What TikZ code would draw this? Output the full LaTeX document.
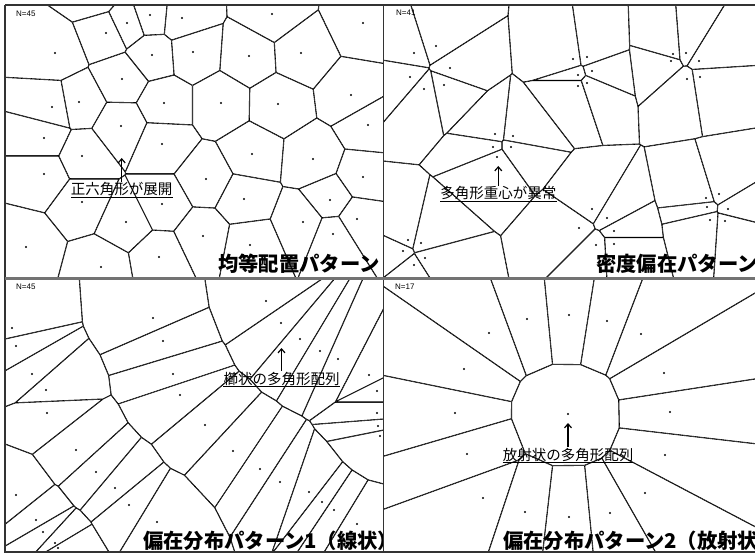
\documentclass[tikz,border=0pt]{standalone}
\usepackage{fontspec}
\setmainfont{Liberation Sans}
\newfontfamily\jp{Noto Sans CJK JP}
\usetikzlibrary{arrows.meta}

\newcommand\vqhalf[4]{%
  \pgfmathsetmacro\vqdx{#3-(#1)}%
  \pgfmathsetmacro\vqdy{#4-(#2)}%
  \pgfmathsetmacro\vqd{veclen(\vqdx,\vqdy)}%
}
\newcommand\vqpoly[4]{%
  \pgfmathsetmacro\vqux{\vqdx/\vqd}%
  \pgfmathsetmacro\vquy{\vqdy/\vqd}%
  \pgfmathsetmacro\vqmx{(#1+#3)/2}%
  \pgfmathsetmacro\vqmy{(#2+#4)/2}%
  \pgfmathsetmacro\vqAx{\vqmx-800*\vquy}%
  \pgfmathsetmacro\vqAy{\vqmy+800*\vqux}%
  \pgfmathsetmacro\vqDx{\vqmx+800*\vquy}%
  \pgfmathsetmacro\vqDy{\vqmy-800*\vqux}%
  \pgfmathsetmacro\vqBx{\vqAx-800*\vqux}%
  \pgfmathsetmacro\vqBy{\vqAy-800*\vquy}%
  \pgfmathsetmacro\vqCx{\vqDx-800*\vqux}%
  \pgfmathsetmacro\vqCy{\vqDy-800*\vquy}%
}
\newcommand\vqdiagram[2]{%
  \foreach \xa/\ya [count=\i] in #1 {%
    \begin{scope}
    \gdef\vqlines{}%
    \foreach \xb/\yb [count=\j] in #1 {%
      \ifnum\i=\j\relax\else
        \vqhalf{\xa}{\ya}{\xb}{\yb}%
        \ifdim\vqd pt<#2pt\relax
          \vqpoly{\xa}{\ya}{\xb}{\yb}%
          \clip (\vqAx,\vqAy) -- (\vqBx,\vqBy) -- (\vqCx,\vqCy) -- (\vqDx,\vqDy) -- cycle;
          \xdef\vqlines{\vqlines (\vqAx,\vqAy) -- (\vqDx,\vqDy)}%
        \fi
      \fi
    }%
    \draw[vedge] \vqlines;
    \end{scope}
  }%
}

\def\seedsA{106/33, 127/23, 150/15, 182/18, 272/14, 363/23,
55/53, 152/55, 193/52, 249/56, 301/53,
122/79, 351/95,
52/107, 79/102, 164/103, 221/103, 278/104,
121/126, 368/125,
44/138, 162/144, 252/154, 313/159, 82/156,
44/174, 206/179, 363/177,
82/202, 162/204, 244/199, 330/200,
126/222, 303/222, 357/219,
203/236, 333/234,
26/247, 101/267, 159/257, 250/245,
95/-5}

\def\seedsB{414/53, 436/46, 450/68, 410/77, 424/89, 444/85,
573/59, 587/57, 592/71, 578/75, 587/83, 578/86,
673/54, 686/53, 671/61, 699/61, 687/79, 700/77,
495/134, 513/136, 493/147, 511/147, 497/157,
592/209, 607/218, 579/228, 614/231, 596/245, 614/244,
706/198, 719/194, 707/207, 728/209, 710/220, 725/221,
408/240, 421/243, 403/251, 425/258, 414/265}

\def\seedsC{12/328, 16/346, 32/374, 46/390, 47/413,
153/318, 163/341, 173/374, 180/395, 205/425,
266/301, 281/323, 300/339, 320/351, 338/359, 369/375, 377/391, 377/413, 378/426, 380/436,
76/450, 96/472, 115/488, 129/505, 157/522,
233/451, 260/469, 280/482, 309/492, 322/502, 334/510, 357/524,
16/495, 36/520, 43/532, 55/543, 58/548}

\def\seedsD{568/414, 527/319, 569/315, 607/321, 641/334, 664/373, 670/412, 665/455,
645/493, 610/513, 569/517, 525/512, 483/498, 467/454, 455/413, 464/369, 489/333}

\begin{document}
\begin{tikzpicture}[x=1pt,y=-1pt,
  vedge/.style={line width=1.1pt,black},
  frame/.style={draw=black!80,line width=1.3pt},
  title/.style={anchor=base west,inner sep=0pt,font=\jp\bfseries\fontsize{20.3}{22}\selectfont},
  nlabel/.style={anchor=west,inner sep=0pt,font=\fontsize{8}{9}\selectfont},
  anno/.style={anchor=base,inner sep=0pt,font=\jp\fontsize{14.5}{16}\selectfont},
  uline/.style={line width=0.9pt},
  anarrow/.style={line width=1.2pt,-{Straight Barb[length=4pt,width=7pt]}}]
\useasboundingbox (0,0) rectangle (755,556);
\fill[white] (0,0) rectangle (755,556);

% Panel 1
\begin{scope}
\clip (5,5) rectangle (383,278);
\vqdiagram{\seedsA}{180}
\foreach \x/\y in \seedsA {\fill (\x,\y) circle (1.1pt);}
\node[title] (h1) at (218,272) {均等配置パターン};
\end{scope}

% Panel 2
\begin{scope}
\clip (383,5) rectangle (760,278);
\vqdiagram{\seedsB}{400}
\foreach \x/\y in \seedsB {\fill (\x,\y) circle (1.1pt);}
\node[title] (h2) at (596,272) {密度偏在パターン};
\end{scope}

% Panel 3
\begin{scope}
\clip (5,279) rectangle (383,552);
\vqdiagram{\seedsC}{300}
\foreach \x/\y in \seedsC {\fill (\x,\y) circle (1.1pt);}
\node[title] (h3) at (143,548) {偏在分布パターン1（線状）};
\end{scope}

% Panel 4
\begin{scope}
\clip (383,279) rectangle (760,552);
\vqdiagram{\seedsD}{1000}
\foreach \x/\y in \seedsD {\fill (\x,\y) circle (1.1pt);}
\node[title] (h4) at (503,548) {偏在分布パターン2（放射状）};
\end{scope}

% frames
\draw[frame] (5,5) -- (760,5);
\draw[frame] (5,5) -- (5,552) -- (760,552);
\draw[frame] (383.5,5) -- (383.5,552);
\fill[black!55] (5,277.3) rectangle (760,280.3);

% N labels
\node[nlabel] (n1) at (16,14) {N=45};
\node[nlabel] (n2) at (396,13) {N=41};
\node[nlabel] (n3) at (16,287) {N=45};
\node[nlabel] (n4) at (395,287) {N=17};

% annotations
\coordinate (a1) at (121.7,158);
\node[anno] (t1) at (121.7,195) {正六角形が展開};
\draw[anarrow] ([yshift=1pt]t1.north) -- (a1);
\draw[uline] ([yshift=-1pt]t1.south west) -- ([yshift=-1pt]t1.south east);

\coordinate (a2) at (498.3,166);
\node[anno] (t2) at (498.3,199) {多角形重心が異常};
\draw[anarrow] ([yshift=1pt]t2.north) -- (a2);
\draw[uline] ([yshift=-1pt]t2.south west) -- ([yshift=-1pt]t2.south east);

\coordinate (a3) at (281.5,348);
\node[anno] (t3) at (281.5,384.5) {櫛状の多角形配列};
\draw[anarrow] ([yshift=1pt]t3.north) -- (a3);
\draw[uline] ([yshift=-1pt]t3.south west) -- ([yshift=-1pt]t3.south east);

\coordinate (a4) at (568,423);
\node[anno] (t4) at (568,460) {放射状の多角形配列};
\draw[anarrow] ([yshift=1pt]t4.north) -- (a4);
\draw[uline] ([yshift=-1pt]t4.south west) -- ([yshift=-1pt]t4.south east);
\end{tikzpicture}
\end{document}
